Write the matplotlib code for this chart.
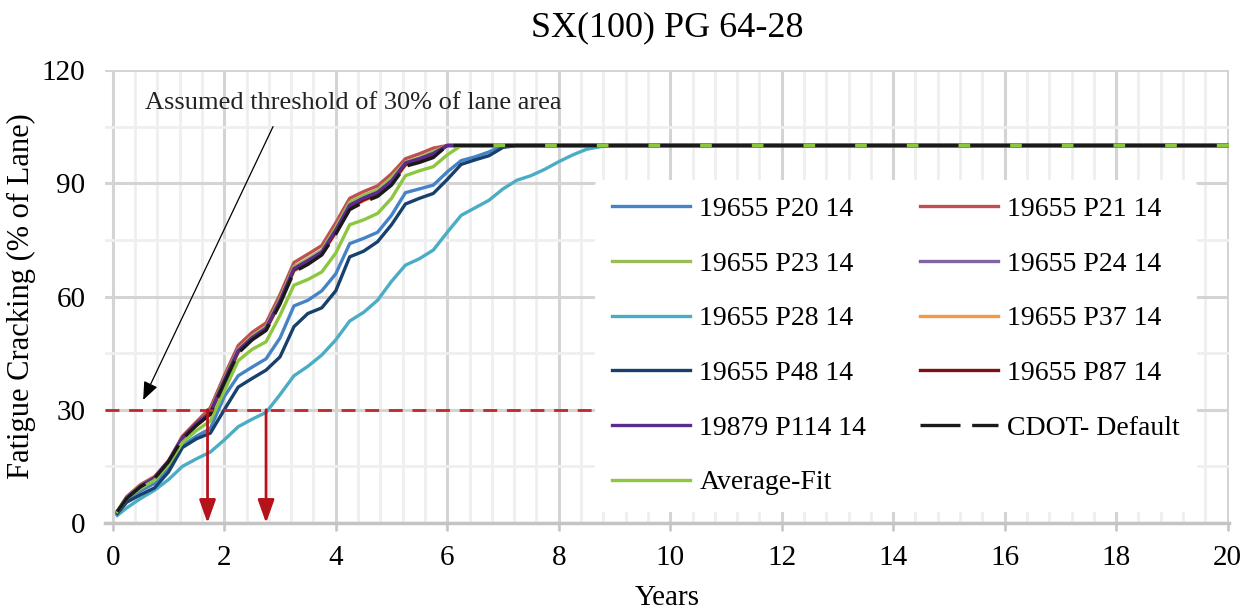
import numpy as np
import matplotlib
matplotlib.use("Agg")
import matplotlib.pyplot as plt
from matplotlib.ticker import MultipleLocator

plt.rcParams['font.family'] = ['Liberation Serif', 'DejaVu Serif']

# 数据：按季度读取的开裂百分比（到达100%后保持不变）
years = [0.08, 0.25, 0.5, 0.75, 1.0, 1.25, 1.5, 1.75, 2.0, 2.25, 2.5, 2.75,
         3.0, 3.25, 3.5, 3.75, 4.0, 4.25, 4.5, 4.75, 5.0, 5.25, 5.5, 5.75,
         6.0, 6.25, 6.5, 6.75, 7.0, 7.25, 7.5, 7.75, 8.0, 8.25, 8.5, 8.75, 9.0]
last_year = 20
plateau = 100

p20 = [3.0, 6.0, 8.5, 10.5, 14.5, 20.5, 23.0, 25.0, 33.5, 39.0, 41.3, 43.5, 49.0, 57.5, 59.0, 61.5,
       66.0, 74.0, 75.4, 77.0, 81.5, 87.5, 88.5, 89.5, 93.0, 96.0, 97.0, 98.3, 100]
p21 = [3.0, 7.0, 10.2, 12.3, 16.5, 23.0, 26.8, 30.5, 39.0, 47.0, 50.5, 53.0, 60.5, 69.0, 71.2, 73.5,
       79.5, 86.0, 87.8, 89.3, 92.5, 96.5, 97.8, 99.3, 100]
p23 = [3.0, 6.8, 9.9, 12.0, 16.0, 22.3, 26.0, 29.6, 38.2, 46.0, 49.5, 52.0, 59.4, 67.9, 70.0, 72.3,
       78.3, 85.0, 86.8, 88.3, 91.5, 95.6, 96.8, 98.4, 100]
p24 = [3.0, 6.7, 9.8, 11.9, 16.3, 22.5, 26.2, 29.2, 37.6, 45.5, 49.0, 51.5, 58.7, 67.2, 69.2, 71.6,
       77.3, 83.8, 85.8, 87.3, 90.3, 95.2, 96.2, 97.6, 100]
p28 = [2.0, 4.0, 6.5, 8.7, 11.5, 15.0, 17.0, 18.8, 22.0, 25.5, 27.5, 29.3, 34.0, 39.0, 41.5, 44.5,
       48.5, 53.5, 55.8, 59.0, 64.0, 68.3, 70.0, 72.3, 77.0, 81.5, 83.5, 85.5, 88.5, 90.8, 92.0, 93.7,
       95.7, 97.5, 99.0, 99.7, 100]
p37 = [3.0, 6.6, 9.7, 11.8, 16.2, 22.4, 26.0, 29.0, 37.3, 45.2, 48.7, 51.2, 58.3, 66.8, 68.8, 71.3,
       76.9, 83.4, 85.4, 86.9, 89.9, 94.8, 95.8, 97.2, 100]
p48 = [2.5, 5.5, 7.5, 9.3, 13.5, 20.0, 22.3, 23.8, 30.0, 36.0, 38.3, 40.5, 44.0, 52.0, 55.5, 57.0,
       61.5, 70.5, 72.0, 74.5, 79.0, 84.5, 86.0, 87.3, 91.0, 95.0, 96.2, 97.3, 99.5, 100]
p87 = [3.0, 6.6, 9.7, 11.9, 16.3, 22.5, 26.1, 29.1, 37.5, 45.4, 48.8, 51.3, 58.5, 67.0, 69.0, 71.4,
       77.1, 83.6, 85.6, 87.1, 90.1, 95.0, 96.0, 97.4, 100]
p114 = [3.0, 6.7, 9.8, 12.0, 16.4, 22.6, 26.3, 29.3, 37.8, 45.7, 49.1, 51.6, 58.9, 67.4, 69.5, 71.8,
        77.6, 84.2, 86.1, 87.6, 90.6, 95.4, 96.5, 97.9, 100]
cdot = [3.0, 6.5, 9.6, 11.8, 16.2, 22.3, 25.8, 28.8, 37.0, 45.0, 48.5, 51.0, 58.0, 66.5, 68.5, 71.0,
        76.5, 83.0, 85.0, 86.5, 89.5, 94.5, 95.5, 96.8, 100]
avg_fit = [3.0, 6.5, 9.2, 11.3, 15.5, 21.3, 24.5, 27.0, 35.0, 43.0, 46.0, 48.0, 55.0, 63.0, 64.5, 66.5,
           71.5, 79.0, 80.3, 82.0, 86.0, 92.0, 93.3, 94.4, 97.5, 100]

threshold = 30
threshold_end = 8.6
cross_years = [1.7, 2.75]

series = [
    ("19655 P20 14", p20, "#4683C6"),
    ("19655 P21 14", p21, "#C0504D"),
    ("19655 P23 14", p23, "#9BBB59"),
    ("19655 P24 14", p24, "#8064A2"),
    ("19655 P28 14", p28, "#4BACC6"),
    ("19655 P37 14", p37, "#F79646"),
    ("19655 P48 14", p48, "#17406D"),
    ("19655 P87 14", p87, "#7B1113"),
    ("19879 P114 14", p114, "#5B2C8F"),
]

fig = plt.figure(figsize=(12.57, 6.14), dpi=100)
ax = fig.add_axes([0.0835, 0.1482, 0.8945, 0.7378])

handles = {}
for name, vals, col in series:
    xs = years[:len(vals)] + [last_year]
    ys = vals + [plateau]
    h, = ax.plot(xs, ys, color=col, lw=2.4, solid_joinstyle='round', zorder=3)
    handles[name] = h

xs = years[:len(avg_fit)] + [last_year]
h, = ax.plot(xs, avg_fit + [plateau], color="#8DC63F", lw=2.4, solid_joinstyle='round', zorder=4)
handles["Average-Fit"] = h
xs = years[:len(cdot)] + [last_year]
h, = ax.plot(xs, cdot + [plateau], color="#1A1A1A", lw=2.4, dashes=(12, 3.5), zorder=5)
handles["CDOT- Default"] = h

# 30%阈值线与箭头
ax.plot([-0.14, threshold_end], [threshold, threshold], color="#C0282D", lw=2.0,
        dashes=(5, 3.5), zorder=6)
for cx in cross_years:
    ax.annotate("", xy=(cx, 0), xytext=(cx, threshold),
                arrowprops=dict(arrowstyle='-|>,head_length=1.4,head_width=0.5',
                                color="#B5121B", lw=2.0, shrinkA=0, shrinkB=0), zorder=7)

ax.annotate("", xy=(0.545, 32.6), xytext=(2.875, 105),
            arrowprops=dict(arrowstyle='-|>,head_length=1.1,head_width=0.45',
                            color="black", lw=0.9, shrinkA=0, shrinkB=0), zorder=7)
ax.text(0.57, 111.3, "Assumed threshold of 30% of lane area", fontsize=19,
        va='center', ha='left', color="#222222", zorder=7)

# 坐标轴与网格
ax.set_xlim(-0.14, 20.03)
ax.set_ylim(0, 120)
ax.xaxis.set_major_locator(MultipleLocator(2))
ax.xaxis.set_minor_locator(MultipleLocator(0.4))
ax.yaxis.set_major_locator(MultipleLocator(30))
ax.yaxis.set_minor_locator(MultipleLocator(15))
ax.grid(which='major', color="#D4D4D4", lw=2.2, zorder=0)
ax.grid(which='minor', color="#EFEFEF", lw=2.0, zorder=0)
ax.set_axisbelow(True)
for s in ['top', 'right', 'left']:
    ax.spines[s].set_visible(False)
ax.spines['bottom'].set_color("#C4C4C4")
ax.spines['bottom'].set_linewidth(2.5)
ax.tick_params(axis='x', which='major', length=6, width=1.8, color="#C4C4C4",
               labelsize=21, pad=10)
ax.tick_params(axis='x', which='minor', length=0)
ax.tick_params(axis='y', which='both', length=0, labelsize=21, pad=14)

ax.set_xlabel("Years", fontsize=21, labelpad=10)
ax.set_ylabel("Fatigue Cracking (% of Lane)", fontsize=22, labelpad=4)
ax.set_title("SX(100) PG 64-28", fontsize=26, pad=24)

order = ["19655 P20 14", "19655 P23 14", "19655 P28 14", "19655 P48 14", "19879 P114 14",
         "Average-Fit", "19655 P21 14", "19655 P24 14", "19655 P37 14", "19655 P87 14",
         "CDOT- Default"]
leg = ax.legend([handles[k] for k in order], order, ncol=2, loc='upper left',
                bbox_to_anchor=(0.436, 0.757), fontsize=20, frameon=True,
                facecolor='white', edgecolor='none', framealpha=1.0,
                handlelength=2.8, handletextpad=0.35, columnspacing=1.93,
                labelspacing=1.05, borderpad=0.6, borderaxespad=0)
leg.set_zorder(8)

fig.savefig("out.png", dpi=100)
